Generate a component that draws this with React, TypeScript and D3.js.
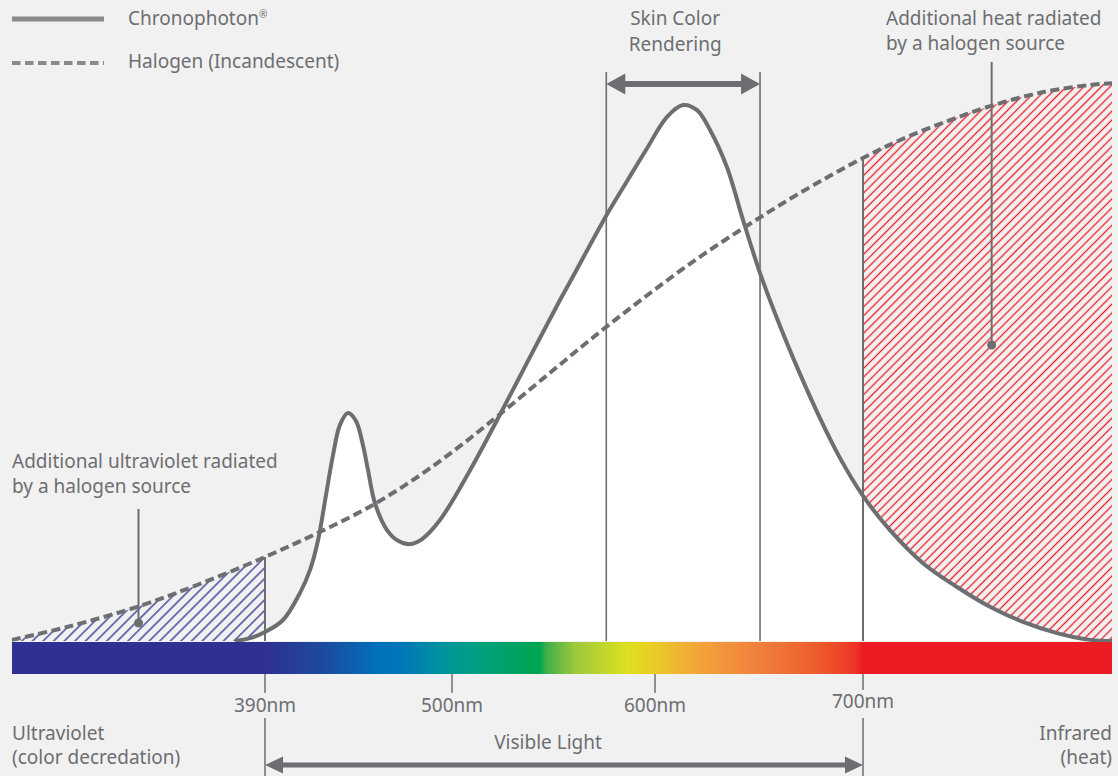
import React from 'react';
import * as d3 from 'd3';

const W = 1118;
const H = 776;

// Chronophoton spectrum (wavelength nm, relative intensity 0-100)
const chronoNm = [373.4, 381.7, 390, 400.6, 410.6, 416.5, 421.2, 425.9, 430.0, 434.1, 438.8, 443.5, 447.6, 450.6, 454.7, 461.8, 468.2, 475.3, 482.4, 492.9, 508.9, 523.6, 538.4, 553.2, 558.1, 575.9, 586.2, 596.1, 605.8, 613.5, 620.2, 626.4, 634.6, 642.3, 650.5, 660.1, 669.7, 679.3, 688.9, 700, 713, 728.9, 745.5, 761.2, 777.1, 793.5, 809.4, 820];
const chronoVal = [0, 0.5, 1.6, 3.75, 8.6, 12.7, 18.0, 26.1, 33.2, 38.6, 40.7, 39.3, 35.0, 30.5, 24.6, 19.8, 17.9, 17.3, 18.2, 21.6, 30.5, 40.4, 50.7, 60.9, 64.1, 75.9, 82.1, 88.0, 93.6, 95.7, 94.8, 91.3, 84.6, 75.2, 65.7, 56.25, 47.7, 39.8, 32.7, 25.9, 19.8, 13.9, 9.6, 6.1, 3.4, 1.4, 0.2, 0];

// Halogen (incandescent) spectrum
const halogenNm = [250, 280.4, 320.8, 354, 390, 422.4, 453.5, 481.2, 503.9, 523.6, 548.3, 572.9, 597.5, 621.6, 645.7, 669.7, 700, 721.2, 741.9, 761.2, 785.3, 809.4, 820];
const halogenVal = [0.2, 2.5, 6.25, 10.2, 15.0, 19.5, 24.3, 29.6, 34.8, 40.5, 47.9, 55.2, 62.1, 68.6, 74.5, 80.0, 86.25, 90.0, 93.0, 95.5, 97.9, 99.3, 99.6];

const tickNm = [390, 500, 600, 700];
const tickLabels = ['390nm', '500nm', '600nm', '700nm'];
const skinRange = [576, 650.5];
const visibleRange = [390, 700];
const uvRange = [250, 390];
const irRange = [700, 820];
const uvPointerNm = 320;
const irPointerNm = 762;

const spectrumNm = [250, 391.8, 423.5, 457.6, 469.4, 492.9, 508.9, 543.3, 546.3, 560.6, 586.7, 597.5, 621.6, 650.5, 679.3, 696.2, 700, 820];
const spectrumColors = ['#2e3192', '#2e3192', '#1d4a9e', '#0072bc', '#0075b8', '#00929f', '#009e86', '#00a651', '#3fae49', '#9cc93b', '#dfe01f', '#e8cf26', '#f3a33b', '#f07f3c', '#ee5a2c', '#ec3528', '#ed1c24', '#ed1c24'];

const GRAY = '#6d6e71';
const FONT = '"Noto Sans", sans-serif';

export default function App() {
  const x = d3.scaleLinear().domain([250, 390, 500, 600, 700, 820]).range([12, 265, 452, 655, 863, 1112]);
  const y = d3.scaleLinear().domain([0, 100]).range([641, 81]);

  const chrono = chronoNm.map((n, i) => ({ n, v: chronoVal[i] }));
  const halogen = halogenNm.map((n, i) => ({ n, v: halogenVal[i] }));

  const curve = d3.curveCatmullRom.alpha(0.5);
  const line = d3.line<{ n: number; v: number }>().x(d => x(d.n)).y(d => y(d.v)).curve(curve);
  const area = d3.area<{ n: number; v: number }>().x(d => x(d.n)).y0(y(0)).y1(d => y(d.v)).curve(curve);

  const uvArea = area(halogen.filter(d => d.n >= uvRange[0] && d.n <= uvRange[1])) || '';
  const irArea = area(halogen.filter(d => d.n >= irRange[0] && d.n <= irRange[1])) || '';
  const chronoArea = area(chrono) || '';

  const haloAt = (n: number) => halogenVal[halogenNm.indexOf(n)];

  const barTop = y(0) + 1;
  const barH = 32;
  const barBottom = barTop + barH;

  const x0 = x(250);
  const x1 = x(820);

  const arrow = (xa: number, xb: number, yy: number, len: number, half: number, th: number) => (
    <g fill={GRAY}>
      <line x1={xa + len - 2} x2={xb - len + 2} y1={yy} y2={yy} stroke={GRAY} strokeWidth={th} />
      <path d={`M${xa},${yy} L${xa + len},${yy - half} L${xa + len},${yy + half} Z`} />
      <path d={`M${xb},${yy} L${xb - len},${yy - half} L${xb - len},${yy + half} Z`} />
    </g>
  );

  const textStyle = { fontFamily: FONT, fontSize: 19, fill: GRAY } as const;
  const skinMid = (x(skinRange[0]) + x(skinRange[1])) / 2 - 8;
  const visMid = (x(visibleRange[0]) + x(visibleRange[1])) / 2 - 16;

  return (
    <svg width={W} height={H} style={{ position: 'absolute', left: 0, top: 0 }}>
      <defs>
        <pattern id="hatchBlue" patternUnits="userSpaceOnUse" width={7.5} height={7.5} patternTransform="rotate(45)">
          <line x1={3.75} x2={3.75} y1={0} y2={7.5} stroke="#2e3192" strokeWidth={1.3} />
        </pattern>
        <pattern id="hatchRed" patternUnits="userSpaceOnUse" width={6.2} height={6.2} patternTransform="rotate(45)">
          <line x1={3.1} x2={3.1} y1={0} y2={6.2} stroke="#ed1c24" strokeWidth={1.3} />
        </pattern>
        <linearGradient id="spectrum" gradientUnits="userSpaceOnUse" x1={x0} x2={x1} y1={0} y2={0}>
          {spectrumNm.map((n, i) => (
            <stop key={i} offset={(x(n) - x0) / (x1 - x0)} stopColor={spectrumColors[i]} />
          ))}
        </linearGradient>
      </defs>

      <rect x={0} y={0} width={W} height={H} fill="#f1f1f1" />

      <path d={uvArea} fill="url(#hatchBlue)" />
      <path d={irArea} fill="url(#hatchRed)" />
      <path d={chronoArea} fill="#ffffff" />

      {/* vertical guide lines */}
      <line x1={x(skinRange[0])} x2={x(skinRange[0])} y1={72} y2={y(0)} stroke={GRAY} strokeWidth={1.6} />
      <line x1={x(skinRange[1])} x2={x(skinRange[1])} y1={72} y2={y(0)} stroke={GRAY} strokeWidth={1.6} />
      <line x1={x(visibleRange[0])} x2={x(visibleRange[0])} y1={y(haloAt(390))} y2={y(0)} stroke={GRAY} strokeWidth={2} />
      <line x1={x(visibleRange[1])} x2={x(visibleRange[1])} y1={y(haloAt(700))} y2={y(0)} stroke={GRAY} strokeWidth={2} />

      <path d={line(halogen) || ''} fill="none" stroke={GRAY} strokeWidth={4} strokeDasharray="9 4.5" />
      <path d={line(chrono) || ''} fill="none" stroke={GRAY} strokeWidth={4} />

      {/* spectrum bar */}
      <rect x={x0} y={barTop} width={x1 - x0} height={barH} fill="url(#spectrum)" />

      {/* ticks and labels */}
      {tickNm.map((n, i) => (
        <g key={n}>
          <line x1={x(n)} x2={x(n)} y1={barBottom} y2={barBottom + (n === 700 ? 16 : 19)} stroke={GRAY} strokeWidth={1.5} />
          <text x={x(n)} y={n === 700 ? 708 : 712} textAnchor="middle" style={textStyle}>{tickLabels[i]}</text>
        </g>
      ))}
      <line x1={x(390)} x2={x(390)} y1={718} y2={H} stroke={GRAY} strokeWidth={1.5} />
      <line x1={x(700)} x2={x(700)} y1={718} y2={H} stroke={GRAY} strokeWidth={1.5} />

      <text x={12} y={740} style={textStyle}>Ultraviolet</text>
      <text x={12} y={764} style={textStyle}>(color decredation)</text>
      <text x={1112} y={740} textAnchor="end" style={textStyle}>Infrared</text>
      <text x={1112} y={764} textAnchor="end" style={textStyle}>(heat)</text>
      <text x={visMid} y={749} textAnchor="middle" style={textStyle}>Visible Light</text>
      {arrow(x(visibleRange[0]), x(visibleRange[1]), 765, 18, 8.5, 5)}

      {/* skin color rendering */}
      <text x={skinMid} y={25} textAnchor="middle" style={textStyle}>Skin Color</text>
      <text x={skinMid} y={51} textAnchor="middle" style={textStyle}>Rendering</text>
      {arrow(x(skinRange[0]), x(skinRange[1]), 84, 19, 10.5, 6)}

      {/* annotations */}
      <text x={886} y={25} style={textStyle}>Additional heat radiated</text>
      <text x={886} y={50} style={textStyle}>by a halogen source</text>
      <line x1={x(irPointerNm)} x2={x(irPointerNm)} y1={62} y2={345} stroke={GRAY} strokeWidth={2} />
      <circle cx={x(irPointerNm)} cy={345} r={4.5} fill={GRAY} />

      <text x={12} y={468} style={textStyle}>Additional ultraviolet radiated</text>
      <text x={12} y={493} style={textStyle}>by a halogen source</text>
      <line x1={x(uvPointerNm)} x2={x(uvPointerNm)} y1={509} y2={623} stroke={GRAY} strokeWidth={2} />
      <circle cx={x(uvPointerNm)} cy={623} r={4.5} fill={GRAY} />

      {/* legend */}
      <line x1={12} x2={104} y1={19} y2={19} stroke="#8a8a8c" strokeWidth={5} />
      <text x={128} y={25} style={textStyle}>Chronophoton<tspan fontSize={10} dy={-7}>®</tspan></text>
      <line x1={12} x2={104} y1={63} y2={63} stroke="#8a8a8c" strokeWidth={4} strokeDasharray="8.5 4.5" />
      <text x={128} y={68} style={textStyle}>Halogen (Incandescent)</text>
    </svg>
  );
}
